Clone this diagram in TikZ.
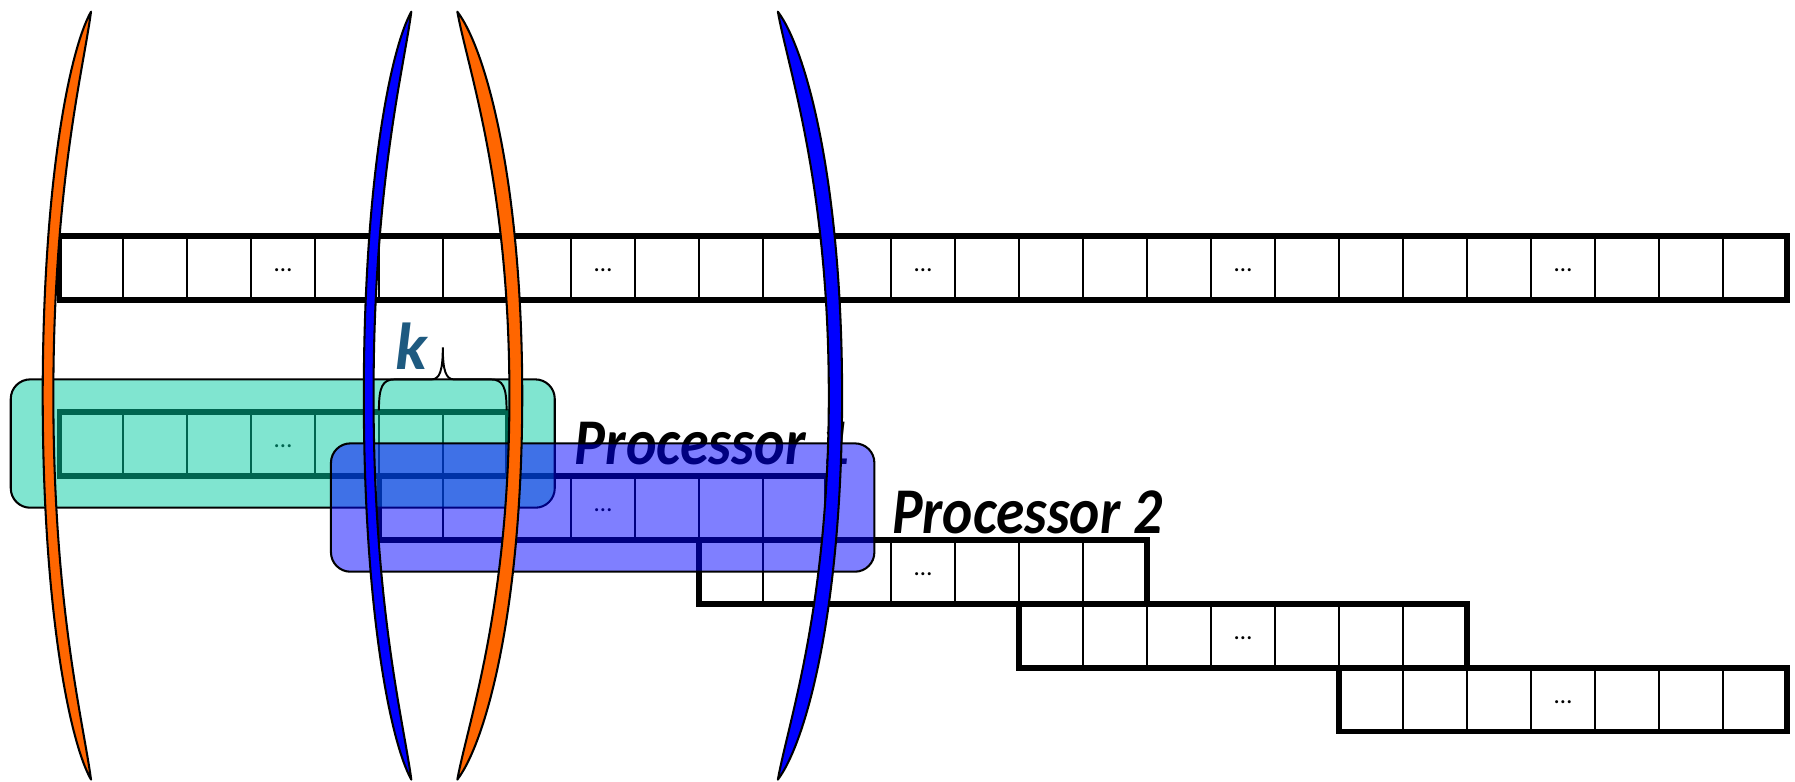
\documentclass[tikz,border=0pt]{standalone}
\usepackage{fontspec}
\usepackage{graphicx}
\newfontfamily\labfont{Carlito}
\definecolor{tealfill}{RGB}{1,203,161}
\definecolor{orangec}{RGB}{255,102,0}
\definecolor{kblue}{RGB}{30,90,128}
\newcommand{\drawlune}[4]{%
  \filldraw[lunestyle, fill=#1] (#2,10.2)
   .. controls ({#2+0.45*(#3)},43.7) and ({#2+(#3)},161.1) .. ({#2+(#3)},345.6)
   .. controls ({#2+(#3)},530.1) and ({#2+0.45*(#3)},647.5) .. (#2,681)
   .. controls ({#2+0.2*(#4)},631) and ({#2+(#4)},530.1) .. ({#2+(#4)},345.6)
   .. controls ({#2+(#4)},161.1) and ({#2+0.2*(#4)},60.5) .. cycle;}
\tikzset{
  rowline/.style={draw=black, line width=4.6pt},
  celldiv/.style={draw=black, line width=1.4pt},
  dotsnode/.style={font=\labfont\fontsize{22}{22}\selectfont, inner sep=0pt, anchor=base},
  boxline/.style={draw=black, line width=1.8pt, rounded corners=17pt, fill opacity=0.5},
  lunestyle/.style={draw=black, line width=1.8pt, line join=round},
  bracestyle/.style={draw=black, line width=1.7pt},
  proc/.style={font=\labfont\bfseries\itshape\fontsize{57}{60}\selectfont, inner sep=0pt, anchor=base west, text=black},
  klabel/.style={font=\labfont\bfseries\itshape\fontsize{58}{60}\selectfont, inner sep=0pt, anchor=base west, text=kblue}
}
\begin{document}
\begin{tikzpicture}[x=1pt,y=-1pt]
\useasboundingbox (0,0) rectangle (1568,683);
% top row
\foreach \i in {1,...,26} \draw[celldiv] ({51.7+\i*55.9},206.1) -- ({51.7+\i*55.9},262);
\draw[rowline] (51.7,206.1) rectangle (1561,262);
\foreach \i in {3,8,13,18,23} \node[dotsnode] (td\i) at ({51.7+(\i+0.5)*55.9},237.5) {\ldots};
% staircase rows
\foreach \k in {0,...,4} {
  \pgfmathsetmacro\xs{51.7+5*\k*55.9}
  \pgfmathsetmacro\ys{359.8+\k*55.9}
  \foreach \i in {1,...,6} \draw[celldiv] ({\xs+\i*55.9},\ys) -- ++(0,55.9);
  \draw[rowline] (\xs,\ys) rectangle ++(391.3,55.9);
  \node[dotsnode] (rd\k) at ({\xs+3.5*55.9},{\ys+31.2}) {\ldots};
}
% teal box
\draw[boxline, fill=tealfill] (9.4,331.4) rectangle (484.6,443.5);
% processor 1 label (under blue box)
\node[proc] (p1) at (502,406) {\scalebox{0.89}[1]{Processor\hspace{0.25em}1}};
% blue box
\draw[boxline, fill=blue] (289.1,387.3) rectangle (763.8,499.4);
% crescents
\drawlune{orangec}{79.5}{-42.2}{-32.9}
\drawlune{blue}{359.3}{-41.5}{-33}
\drawlune{orangec}{399.5}{56.7}{45.5}
\drawlune{blue}{679.5}{56.1}{44.5}
% brace and k
\coordinate (bl) at (331,358.5);
\coordinate (br) at (442.5,358.5);
\coordinate (bt) at (386.8,303.4);
\draw[bracestyle] (bl) .. controls (331,338) and (334,331.4) .. (345,331.4) -- (377,331.4)
  .. controls (384,331.4) and (386.8,324) .. (bt)
  .. controls (386.8,324) and (389.6,331.4) .. (396.6,331.4) -- (428.5,331.4)
  .. controls (439.5,331.4) and (442.5,338) .. (br);
\node[klabel] (k) at (345,323) {k};
% processor 2 label
\node[proc] (p2) at (779,466) {\scalebox{0.88}[1]{Processor 2}};
\end{tikzpicture}
\end{document}
